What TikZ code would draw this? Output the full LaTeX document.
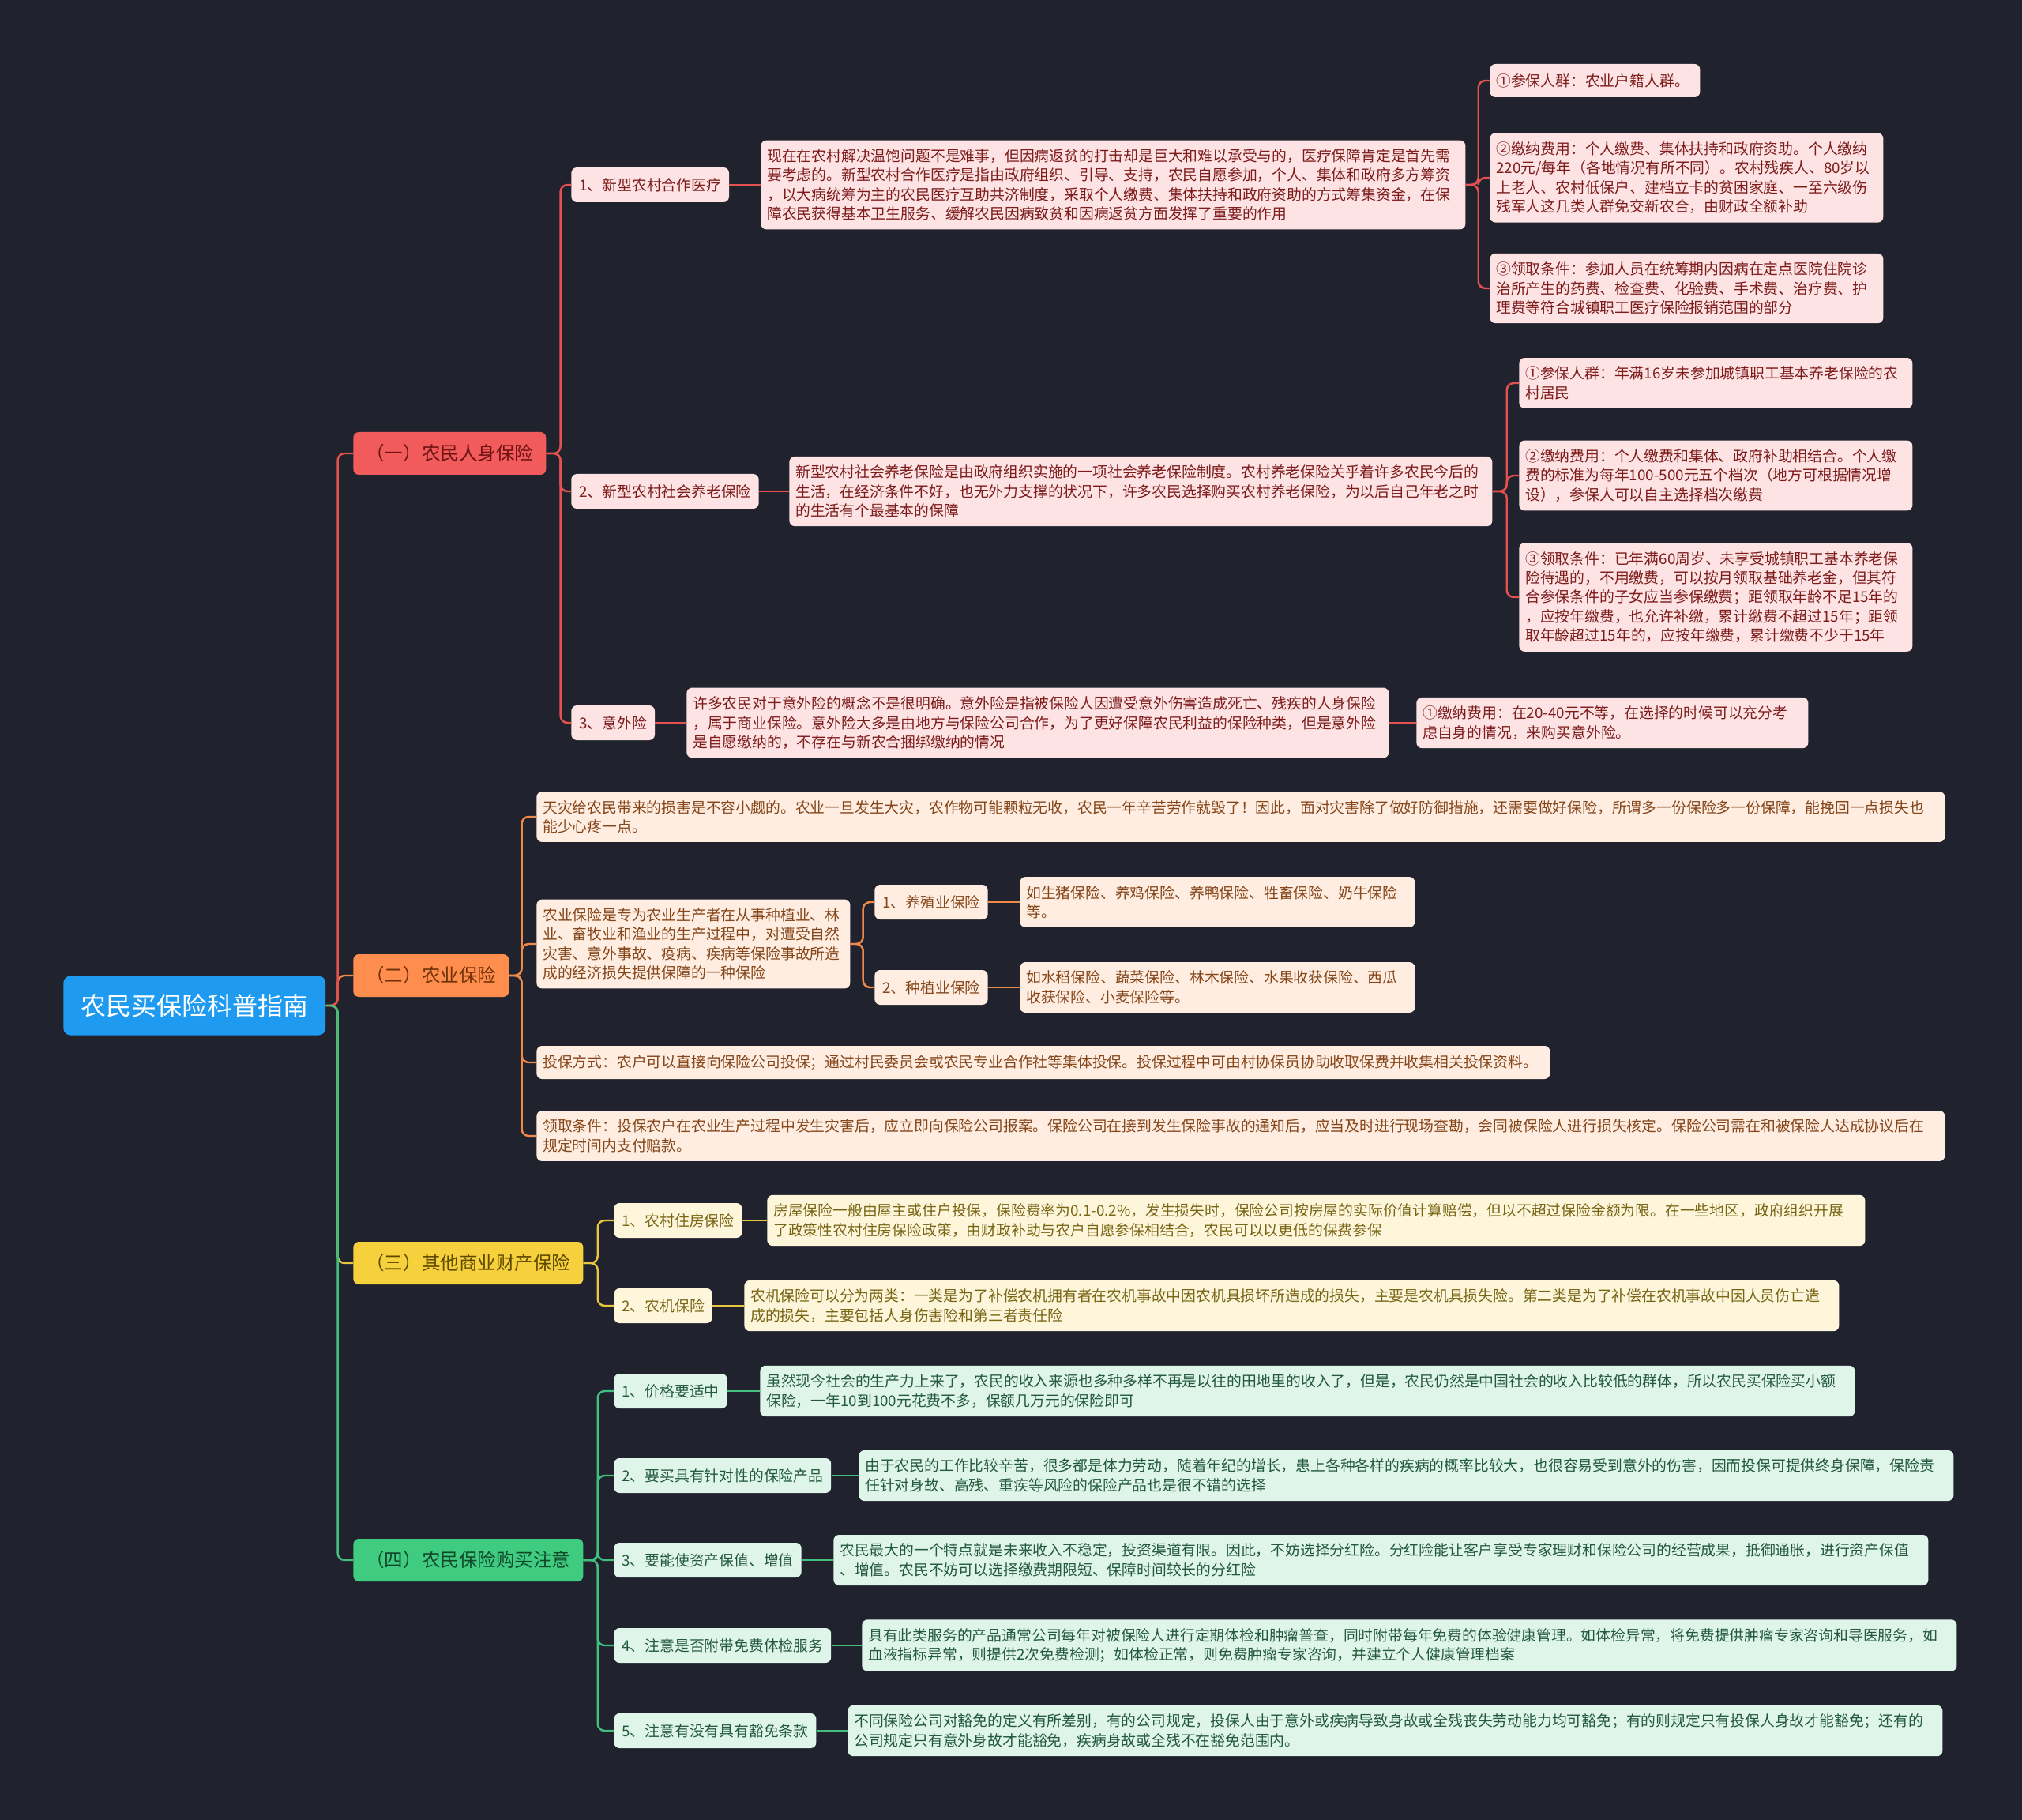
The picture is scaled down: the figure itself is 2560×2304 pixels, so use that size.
\documentclass[tikz,border=0pt]{standalone}
\usepackage{fontspec}
\newfontfamily\cjk{Noto Sans CJK SC}
\definecolor{BgDark}{HTML}{20232E}
\definecolor{RootBlue}{HTML}{1E9BF0}
\definecolor{LifeRed}{HTML}{F25B5B}
\definecolor{LifeLine}{HTML}{E4514F}
\definecolor{LifeFill}{HTML}{FDE3E3}
\definecolor{LifeText}{HTML}{7E1C1C}
\definecolor{LifeDark}{HTML}{6E1212}
\definecolor{FarmOrange}{HTML}{FF8D4D}
\definecolor{FarmLine}{HTML}{F0894A}
\definecolor{FarmFill}{HTML}{FFEDE1}
\definecolor{FarmText}{HTML}{85461A}
\definecolor{FarmDark}{HTML}{6E3208}
\definecolor{PropYellow}{HTML}{F6D03D}
\definecolor{PropLine}{HTML}{E9C540}
\definecolor{PropFill}{HTML}{FEF6DA}
\definecolor{PropText}{HTML}{786515}
\definecolor{PropDark}{HTML}{5E4A00}
\definecolor{TipGreen}{HTML}{3FCB80}
\definecolor{TipLine}{HTML}{42BF7E}
\definecolor{TipFill}{HTML}{DFF5EA}
\definecolor{TipText}{HTML}{245A3C}
\definecolor{TipDark}{HTML}{10482A}
\tikzset{
  root node/.style={fill=RootBlue,text=white,rounded corners=5pt,anchor=west,
    font=\cjk\fontsize{18.2}{22}\selectfont,inner xsep=4.4mm,minimum height=15mm},
  topic node/.style 2 args={fill=#1,text=#2,rounded corners=4pt,anchor=west,
    font=\cjk\fontsize{13.4}{16}\selectfont,inner xsep=3.2mm,minimum height=10.8mm},
  item node/.style 2 args={fill=#1,text=#2,rounded corners=4pt,anchor=west,
    font=\cjk\fontsize{10.7}{13.9}\selectfont,inner xsep=2mm,minimum height=8.8mm},
  text node/.style n args={3}{fill=#1,text=#2,text width=#3,align=left,rounded corners=4pt,
    anchor=west,font=\cjk\fontsize{10.7}{13.9}\selectfont,inner xsep=1.6mm,inner ysep=2.2mm,
    minimum height=8.4mm},
  link/.style={draw=#1,line width=1.4pt,rounded corners=5pt}
}
\begin{document}
\begin{tikzpicture}[x=0.2mm,y=-0.2mm,font=\cjk]
  \fill[BgDark] (0,0) rectangle (2560,2304);
  \node[root node] (root) at (80,1273) {农民买保险科普指南};
  \node[topic node={LifeRed}{LifeDark}] (life) at (447,574) {（一）农民人身保险};
  \node[topic node={FarmOrange}{FarmDark}] (farm) at (447,1235) {（二）农业保险};
  \node[topic node={PropYellow}{PropDark}] (prop) at (447,1599) {（三）其他商业财产保险};
  \node[topic node={TipGreen}{TipDark}] (tips) at (447,1975) {（四）农民保险购买注意};
  \foreach \b/\c in {farm/FarmLine,prop/PropLine,life/LifeLine,tips/TipLine}{
    \draw[link=\c] (root.east) -- ++(15,0) |- (\b.west);
  }

  \foreach \i/\y/\t in {1/234/{1、新型农村合作医疗},2/622/{2、新型农村社会养老保险},3/915/{3、意外险}}{
    \node[item node={LifeFill}{LifeText}] (life\i) at (723,\y) {\t};
    \draw[link=LifeLine] (life.east) -- ++(18,0) |- (life\i.west);
  }
  \node[text node={LifeFill}{LifeText}{175.2mm}] (life1t) at (963,234)
    {现在在农村解决温饱问题不是难事，但因病返贫的打击却是巨大和难以承受与的，医疗保障肯定是首先需\\
     要考虑的。新型农村合作医疗是指由政府组织、引导、支持，农民自愿参加，个人、集体和政府多方筹资\\
     ，以大病统筹为主的农民医疗互助共济制度，采取个人缴费、集体扶持和政府资助的方式筹集资金，在保\\
     障农民获得基本卫生服务、缓解农民因病致贫和因病返贫方面发挥了重要的作用};
  \node[text node={LifeFill}{LifeText}{174.8mm}] (life2t) at (999,622)
    {新型农村社会养老保险是由政府组织实施的一项社会养老保险制度。农村养老保险关乎着许多农民今后的\\
     生活，在经济条件不好，也无外力支撑的状况下，许多农民选择购买农村养老保险，为以后自己年老之时\\
     的生活有个最基本的保障};
  \node[text node={LifeFill}{LifeText}{174.6mm}] (life3t) at (869,915)
    {许多农民对于意外险的概念不是很明确。意外险是指被保险人因遭受意外伤害造成死亡、残疾的人身保险\\
     ，属于商业保险。意外险大多是由地方与保险公司合作，为了更好保障农民利益的保险种类，但是意外险\\
     是自愿缴纳的，不存在与新农合捆绑缴纳的情况};
  \foreach \i in {1,2,3}{
    \draw[link=LifeLine] (life\i.east) -- (life\i t.west);
  }
  \foreach \i/\y/\w/\t in {1/102/50mm/{①参保人群：农业户籍人群。},
      2/225/96.4mm/{②缴纳费用：个人缴费、集体扶持和政府资助。个人缴纳\\220元/每年（各地情况有所不同）。农村残疾人、80岁以\\上老人、农村低保户、建档立卡的贫困家庭、一至六级伤\\残军人这几类人群免交新农合，由财政全额补助},
      3/365/96.4mm/{③领取条件：参加人员在统筹期内因病在定点医院住院诊\\治所产生的药费、检查费、化验费、手术费、治疗费、护\\理费等符合城镇职工医疗保险报销范围的部分}}{
    \node[text node={LifeFill}{LifeText}{\w}] (med\i) at (1886,\y) {\t};
    \draw[link=LifeLine] (life1t.east) -- ++(16,0) |- (med\i.west);
  }
  \foreach \i/\y/\t in {1/485/{①参保人群：年满16岁未参加城镇职工基本养老保险的农\\村居民},
      2/602/{②缴纳费用：个人缴费和集体、政府补助相结合。个人缴\\费的标准为每年100-500元五个档次（地方可根据情况增\\设），参保人可以自主选择档次缴费},
      3/756/{③领取条件：已年满60周岁、未享受城镇职工基本养老保\\险待遇的，不用缴费，可以按月领取基础养老金，但其符\\合参保条件的子女应当参保缴费；距领取年龄不足15年的\\，应按年缴费，也允许补缴，累计缴费不超过15年；距领\\取年龄超过15年的，应按年缴费，累计缴费不少于15年}}{
    \node[text node={LifeFill}{LifeText}{96.4mm}] (pen\i) at (1923,\y) {\t};
    \draw[link=LifeLine] (life2t.east) -- ++(18,0) |- (pen\i.west);
  }
  \node[text node={LifeFill}{LifeText}{96mm}] (acc1) at (1793,915)
    {①缴纳费用：在20-40元不等，在选择的时候可以充分考\\虑自身的情况，来购买意外险。};
  \draw[link=LifeLine] (life3t.east) -- (acc1.west);

  \node[text node={FarmFill}{FarmText}{353.4mm}] (farm1) at (679,1034)
    {天灾给农民带来的损害是不容小觑的。农业一旦发生大灾，农作物可能颗粒无收，农民一年辛苦劳作就毁了！因此，面对灾害除了做好防御措施，还需要做好保险，所谓多一份保险多一份保障，能挽回一点损失也\\能少心疼一点。};
  \node[text node={FarmFill}{FarmText}{76.2mm}] (farm2) at (679,1195)
    {农业保险是专为农业生产者在从事种植业、林\\业、畜牧业和渔业的生产过程中，对遭受自然\\灾害、意外事故、疫病、疾病等保险事故所造\\成的经济损失提供保障的一种保险};
  \node[text node={FarmFill}{FarmText}{253.4mm}] (farm3) at (679,1345)
    {投保方式：农户可以直接向保险公司投保；通过村民委员会或农民专业合作社等集体投保。投保过程中可由村协保员协助收取保费并收集相关投保资料。};
  \node[text node={FarmFill}{FarmText}{353.4mm}] (farm4) at (679,1438)
    {领取条件：投保农户在农业生产过程中发生灾害后，应立即向保险公司报案。保险公司在接到发生保险事故的通知后，应当及时进行现场查勘，会同被保险人进行损失核定。保险公司需在和被保险人达成协议后在\\规定时间内支付赔款。};
  \foreach \i in {1,...,4}{
    \draw[link=FarmLine] (farm.east) -- ++(16,0) |- (farm\i.west);
  }
  \foreach \i/\y/\s/\t in {1/1142/{1、养殖业保险}/{如生猪保险、养鸡保险、养鸭保险、牲畜保险、奶牛保险\\等。},
      2/1250/{2、种植业保险}/{如水稻保险、蔬菜保险、林木保险、水果收获保险、西瓜\\收获保险、小麦保险等。}}{
    \node[item node={FarmFill}{FarmText}] (crop\i) at (1107,\y) {\s};
    \node[text node={FarmFill}{FarmText}{96.8mm}] (crop\i t) at (1291,\y) {\t};
    \draw[link=FarmLine] (farm2.east) -- ++(16,0) |- (crop\i.west);
    \draw[link=FarmLine] (crop\i.east) -- (crop\i t.west);
  }

  \foreach \i/\y/\x/\w/\s/\t in {1/1545/971/274.8mm/{1、农村住房保险}/{房屋保险一般由屋主或住户投保，保险费率为0.1-0.2\%，发生损失时，保险公司按房屋的实际价值计算赔偿，但以不超过保险金额为限。在一些地区，政府组织开展\\了政策性农村住房保险政策，由财政补助与农户自愿参保相结合，农民可以以更低的保费参保},
      2/1653/942/274mm/{2、农机保险}/{农机保险可以分为两类：一类是为了补偿农机拥有者在农机事故中因农机具损坏所造成的损失，主要是农机具损失险。第二类是为了补偿在农机事故中因人员伤亡造\\成的损失，主要包括人身伤害险和第三者责任险}}{
    \node[item node={PropFill}{PropText}] (prop\i) at (777,\y) {\s};
    \node[text node={PropFill}{PropText}{\w}] (prop\i t) at (\x,\y) {\t};
    \draw[link=PropLine] (prop.east) -- ++(18,0) |- (prop\i.west);
    \draw[link=PropLine] (prop\i.east) -- (prop\i t.west);
  }

  \foreach \i/\y/\x/\s/\t in {1/1761/962/{1、价格要适中}/{虽然现今社会的生产力上来了，农民的收入来源也多种多样不再是以往的田地里的收入了，但是，农民仍然是中国社会的收入比较低的群体，所以农民买保险买小额\\保险，一年10到100元花费不多，保额几万元的保险即可},
      2/1868/1087/{2、要买具有针对性的保险产品}/{由于农民的工作比较辛苦，很多都是体力劳动，随着年纪的增长，患上各种各样的疾病的概率比较大，也很容易受到意外的伤害，因而投保可提供终身保障，保险责\\任针对身故、高残、重疾等风险的保险产品也是很不错的选择},
      3/1975/1055/{3、要能使资产保值、增值}/{农民最大的一个特点就是未来收入不稳定，投资渠道有限。因此，不妨选择分红险。分红险能让客户享受专家理财和保险公司的经营成果，抵御通胀，进行资产保值\\、增值。农民不妨可以选择缴费期限短、保障时间较长的分红险},
      4/2083/1091/{4、注意是否附带免费体检服务}/{具有此类服务的产品通常公司每年对被保险人进行定期体检和肿瘤普查，同时附带每年免费的体验健康管理。如体检异常，将免费提供肿瘤专家咨询和导医服务，如\\血液指标异常，则提供2次免费检测；如体检正常，则免费肿瘤专家咨询，并建立个人健康管理档案},
      5/2191/1073/{5、注意有没有具有豁免条款}/{不同保险公司对豁免的定义有所差别，有的公司规定，投保人由于意外或疾病导致身故或全残丧失劳动能力均可豁免；有的则规定只有投保人身故才能豁免；还有的\\公司规定只有意外身故才能豁免，疾病身故或全残不在豁免范围内。}}{
    \node[item node={TipFill}{TipText}] (tip\i) at (777,\y) {\s};
    \node[text node={TipFill}{TipText}{274mm}] (tip\i t) at (\x,\y) {\t};
    \draw[link=TipLine] (tips.east) -- ++(18,0) |- (tip\i.west);
    \draw[link=TipLine] (tip\i.east) -- (tip\i t.west);
  }
\end{tikzpicture}
\end{document}
